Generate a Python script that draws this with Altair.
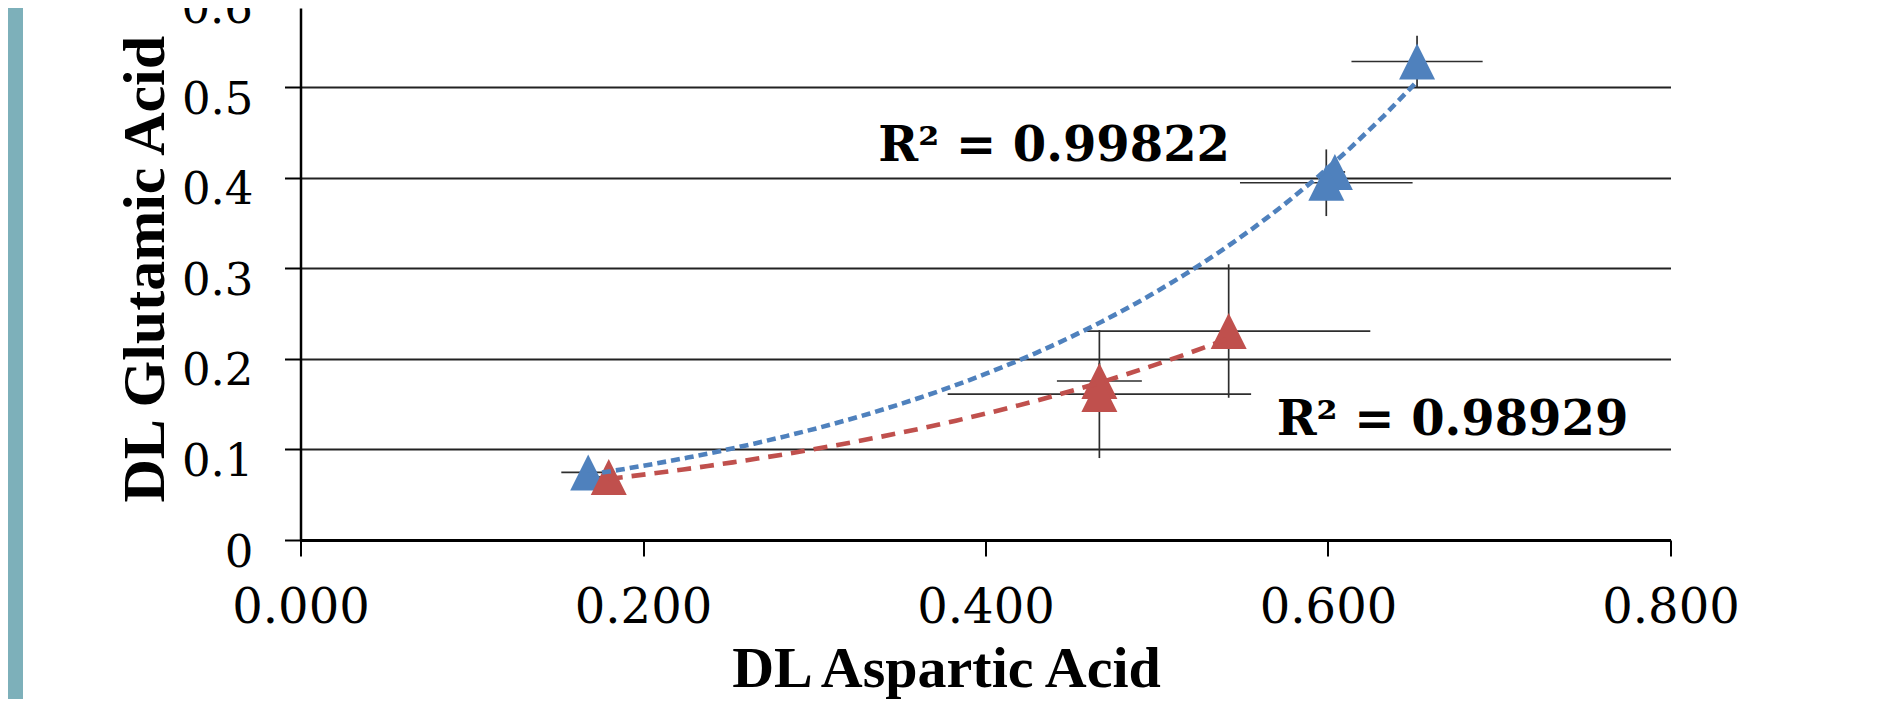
import altair as alt
import pandas as pd

# ---- data ----
series = ["blue", "blue", "blue", "blue", "red", "red", "red", "red"]
asp = [0.168, 0.604, 0.599, 0.652, 0.180, 0.4665, 0.4665, 0.542]
glu = [0.0746, 0.4065, 0.3946, 0.5285, 0.0696, 0.1756, 0.1612, 0.2308]
asp_err = [0.0157, 0.006, 0.0504, 0.0383, 0.006, 0.0248, 0.0886, 0.0827]
glu_err = [0.010, 0.012, 0.0368, 0.0285, 0.008, 0.020, 0.0707, 0.0737]

ann_x = [0.3374, 0.570]
ann_y = [0.4186, 0.116]
ann_text = ["R² = 0.99822", "R² = 0.98929"]

x_ticks = [0.0, 0.2, 0.4, 0.6, 0.8]
y_ticks = [0.0, 0.1, 0.2, 0.3, 0.4, 0.5]
y_cut_tick = [0.6]          # top label, mostly cut off by the page edge

series_names = ["blue", "red"]
series_colors = ["#4F81BD", "#C0504D"]
series_dash = [[9, 5], [14, 9]]

df = pd.DataFrame({"series": series, "asp": asp, "glu": glu,
                   "asp_err": asp_err, "glu_err": glu_err})
df["x_lo"] = df["asp"] - df["asp_err"]
df["x_hi"] = df["asp"] + df["asp_err"]
df["y_lo"] = df["glu"] - df["glu_err"]
df["y_hi"] = df["glu"] + df["glu_err"]

ann_df = pd.DataFrame({"asp": ann_x, "glu": ann_y, "label": ann_text})
cut_df = pd.DataFrame({"glu": y_cut_tick, "label": ["0.6"]})

# ---- scales & axes ----
x_scale = alt.Scale(domain=[0, 0.8], nice=False, zero=False)
y_scale = alt.Scale(domain=[0, 0.5876], nice=False, zero=False)

x_axis = alt.Axis(
    values=x_ticks, format=".3f", title="DL Aspartic Acid", grid=False,
    tickSize=16, tickWidth=2, tickColor="black",
    domainColor="black", domainWidth=3,
    labelFont="DejaVu Serif", labelFontSize=48, labelColor="black",
    labelBaseline="alphabetic", labelPadding=66, labelFlush=False,
    labelOverlap=False,
    titleFont="Liberation Serif", titleFontSize=58, titleFontWeight="bold",
    titleColor="black", titleX=645.5, titleY=146,
    titleBaseline="alphabetic", titleAlign="center",
)
y_axis = alt.Axis(
    values=y_ticks, format="~g", title="DL Glutamic Acid",
    grid=True, gridColor="#222222", gridWidth=1.8,
    tickSize=16, tickWidth=2, tickColor="black",
    domainColor="black", domainWidth=2.5,
    labelFont="DejaVu Serif", labelFontSize=45, labelColor="black",
    labelBaseline="alphabetic", labelOffset=26, labelPadding=31.5,
    labelFlush=False, labelOverlap=False,
    titleFont="Liberation Serif", titleFontSize=60, titleFontWeight="bold",
    titleColor="black", titleAngle=270, titleX=-137.5, titleY=260.7,
    titleBaseline="alphabetic", titleAlign="center",
)


def X(field):
    return alt.X(field, type="quantitative", scale=x_scale, axis=x_axis)


def Y(field):
    return alt.Y(field, type="quantitative", scale=y_scale, axis=y_axis)


color = alt.Color("series:N", scale=alt.Scale(domain=series_names, range=series_colors), legend=None)

base = alt.Chart(df)

band = alt.Chart(pd.DataFrame({"a": [0]})).mark_rect(color="#7DB0BA").encode(
    x=alt.value(-292.5), x2=alt.value(-277.5), y=alt.value(0), y2=alt.value(691)
)

err_h = base.mark_rule(color="#2e2e2e", strokeWidth=1.7).encode(
    x=X("x_lo"), x2="x_hi", y=Y("glu")
)
err_v = base.mark_rule(color="#2e2e2e", strokeWidth=1.7).encode(
    x=X("asp"), y=Y("y_lo"), y2="y_hi"
)

points = base.mark_point(shape="M0,-1L1,1L-1,1Z", filled=True, size=1296,
                         opacity=1, strokeWidth=0).encode(
    x=X("asp"), y=Y("glu"), color=color
)

trend = base.transform_regression(
    "asp", "glu", method="exp", groupby=["series"]
).mark_line(strokeWidth=4.6).encode(
    x=X("asp"), y=Y("glu"), color=color,
    strokeDash=alt.StrokeDash("series:N", scale=alt.Scale(domain=series_names, range=series_dash), legend=None),
)

ann = alt.Chart(ann_df).mark_text(
    font="DejaVu Serif", fontWeight="bold", fontSize=48, color="black",
    align="left", baseline="alphabetic"
).encode(x=X("asp"), y=Y("glu"), text="label:N")

cut_label = alt.Chart(cut_df).mark_text(
    font="DejaVu Serif", fontSize=45, color="black",
    align="right", baseline="alphabetic", dx=-47.5, dy=26
).encode(x=alt.datum(0), y=Y("glu"), text="label:N")

chart = alt.layer(band, err_h, err_v, points, trend, ann, cut_label).properties(
    width=1370, height=532,
    autosize=alt.AutoSizeParams(type="none"),
    padding={"left": 292.5, "top": 0, "right": 207, "bottom": 159},
    background="white",
).configure_view(strokeWidth=0)

chart.save("out.html", embed_options={"renderer": "svg", "actions": False})
